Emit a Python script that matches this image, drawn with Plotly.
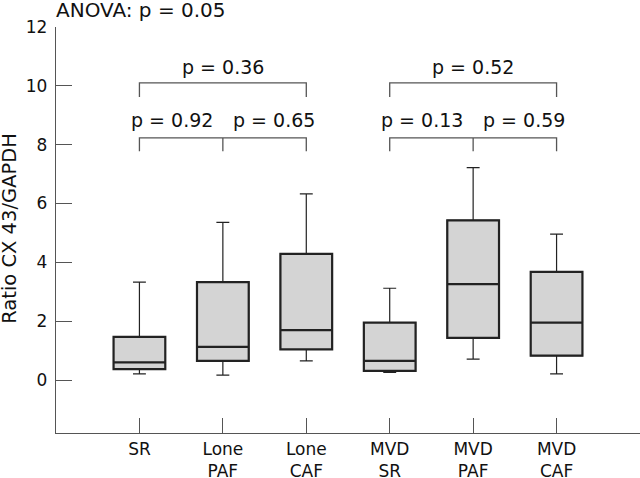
import plotly.graph_objects as go

# ---- data ----
categories = ["SR", "Lone<br>PAF", "Lone<br>CAF", "MVD<br>SR", "MVD<br>PAF", "MVD<br>CAF"]
positions = [1, 2, 3, 4, 5, 6]
lower_whisker = [0.21, 0.17, 0.65, 0.26, 0.71, 0.21]
q1_values = [0.37, 0.65, 1.04, 0.31, 1.43, 0.83]
median_values = [0.60, 1.13, 1.70, 0.65, 3.26, 1.95]
q3_values = [1.47, 3.33, 4.29, 1.95, 5.43, 3.68]
upper_whisker = [3.33, 5.36, 6.33, 3.12, 7.22, 4.96]

y_ticks = [0, 2, 4, 6, 8, 10, 12]

bracket_groups = [[1, 2, 3], [4, 5, 6]]
outer_p = ["p = 0.36", "p = 0.52"]
inner_p = [["p = 0.92", "p = 0.65"], ["p = 0.13", "p = 0.59"]]
anova_text = "ANOVA: p = 0.05"
y_title = "Ratio CX 43/GAPDH"

# ---- style ----
FONT = "DejaVu Sans"
TXT = "#111111"
AX = "#555555"
BOXLINE = "#222222"
FILL = "#d4d4d4"

OUTER_Y, OUTER_DROP = 10.10, 9.62
INNER_Y, INNER_DROP = 8.23, 7.78
OUTER_TXT_Y, INNER_TXT_Y = 10.63, 8.83

fig = go.Figure()

# whiskers (thin)
fig.add_trace(go.Box(
    x=positions, q1=q1_values, median=median_values, q3=q3_values,
    lowerfence=lower_whisker, upperfence=upper_whisker,
    width=0.62, whiskerwidth=0.25, fillcolor=FILL,
    line=dict(color=BOXLINE, width=1.2), boxpoints=False,
    hoverinfo="skip", showlegend=False))
# boxes (thick)
fig.add_trace(go.Box(
    x=positions, q1=q1_values, median=median_values, q3=q3_values,
    lowerfence=q1_values, upperfence=q3_values,
    width=0.62, whiskerwidth=0, fillcolor=FILL,
    line=dict(color=BOXLINE, width=2.2), boxpoints=False,
    hoverinfo="skip", showlegend=False))

# brackets
bx, by = [], []
for g in bracket_groups:
    a, m, b = g
    bx += [a, a, b, b, None]
    by += [OUTER_DROP, OUTER_Y, OUTER_Y, OUTER_DROP, None]
    bx += [a, a, b, b, None, m, m, None]
    by += [INNER_DROP, INNER_Y, INNER_Y, INNER_DROP, None, INNER_Y, INNER_DROP, None]
fig.add_trace(go.Scatter(x=bx, y=by, mode="lines",
                         line=dict(color=AX, width=1.3),
                         hoverinfo="skip", showlegend=False))

PFONT = dict(family=FONT, size=19, color=TXT)
annotations = []
for g, op, ip in zip(bracket_groups, outer_p, inner_p):
    a, m, b = g
    annotations.append(dict(x=m, y=OUTER_TXT_Y, text=op, showarrow=False,
                            xanchor="center", yanchor="middle", font=PFONT))
    annotations.append(dict(x=m, y=INNER_TXT_Y, text=ip[0], showarrow=False,
                            xanchor="right", yanchor="middle", xshift=-8, font=PFONT))
    annotations.append(dict(x=m, y=INNER_TXT_Y, text=ip[1], showarrow=False,
                            xanchor="left", yanchor="middle", xshift=8, font=PFONT))

annotations.append(dict(x=0, y=1.042, xref="paper", yref="paper", text=anova_text,
                        showarrow=False, xanchor="left", yanchor="middle",
                        xshift=-2, font=dict(family=FONT, size=20, color=TXT)))
annotations.append(dict(x=-0.079, y=0.505, xref="paper", yref="paper", text=y_title,
                        showarrow=False, xanchor="center", yanchor="middle",
                        textangle=-90,
                        font=dict(family=FONT, size=19.5, color=TXT)))

fig.update_layout(
    width=640, height=478,
    margin=dict(l=56, r=0, t=27, b=45),
    paper_bgcolor="white", plot_bgcolor="white",
    boxmode="overlay",
    annotations=annotations,
    font=dict(family=FONT, size=17, color=TXT),
    xaxis=dict(range=[0, 7], tickvals=positions, ticktext=categories,
               ticks="inside", ticklen=15, tickwidth=1.3, tickcolor=AX,
               showline=True, linecolor=AX, linewidth=1.3,
               showgrid=False, zeroline=False, automargin=False,
               tickfont=dict(family=FONT, size=17, color=TXT)),
    yaxis=dict(range=[-1.8, 12], tickvals=y_ticks,
               ticks="inside", ticklen=16, tickwidth=1.3, tickcolor=AX,
               showline=True, linecolor=AX, linewidth=1.3,
               showgrid=False, zeroline=False, ticklabelstandoff=4,
               automargin=False,
               tickfont=dict(family=FONT, size=17, color=TXT)),
)

# remove the default page margin so the 640x478 figure fills the window exactly
fig.write_html("out.html",
               config={"displayModeBar": False},
               post_script="document.body.style.margin='0';"
                           "document.body.style.overflow='hidden';")
